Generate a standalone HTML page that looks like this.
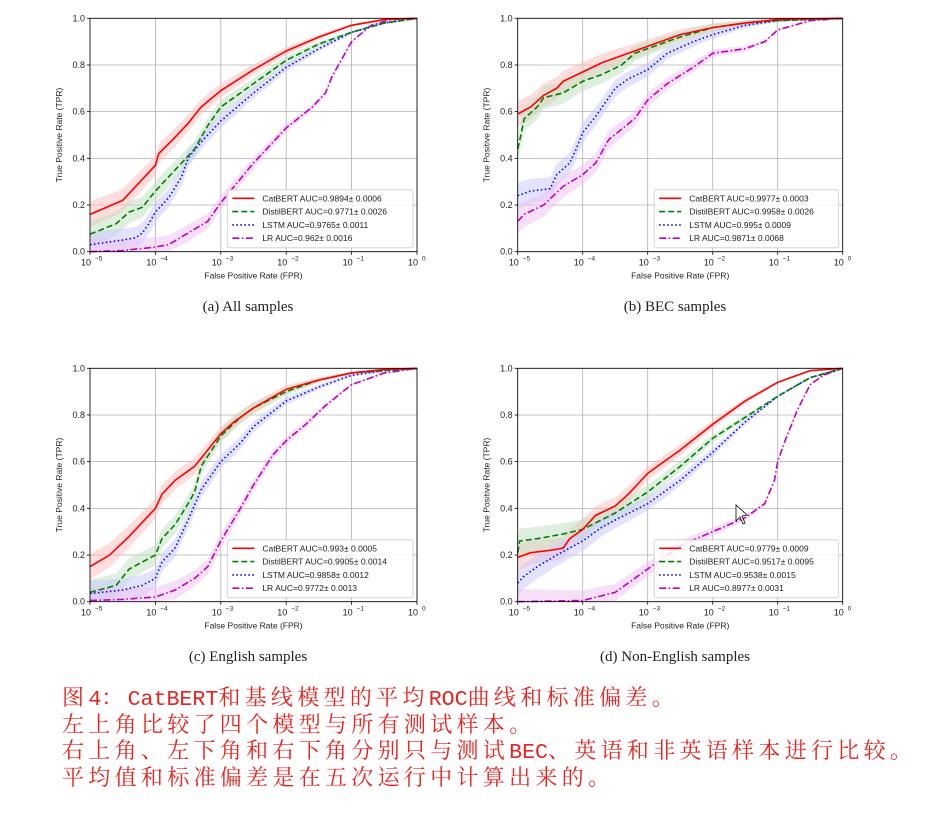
<!DOCTYPE html>
<html><head><meta charset="utf-8"><style>
body{margin:0;background:#fff;width:927px;height:815px;overflow:hidden;position:relative}
svg{position:absolute;left:0;top:0}
.cap{position:absolute;font-family:"Liberation Serif",serif;font-size:15px;color:#222;width:400px;text-align:center}
.zh{position:absolute;left:62px;top:684px;font-family:"Noto Serif CJK SC","WenQuanYi Zen Hei",serif;font-size:22px;letter-spacing:4.3px;line-height:26.5px;color:#e8231f;white-space:nowrap}
.zh div{height:26.5px;line-height:26.5px}
.zh span{font-family:"Liberation Mono",monospace;font-size:21.6px;letter-spacing:0;line-height:0}
</style></head><body>
<svg id="s" width="927" height="815" xmlns="http://www.w3.org/2000/svg" font-family="Liberation Sans, DejaVu Sans, sans-serif"></svg>
<div class="cap" style="left:48px;top:299px">(a) All samples</div>
<div class="cap" style="left:475px;top:299px">(b) BEC samples</div>
<div class="cap" style="left:48px;top:649px">(c) English samples</div>
<div class="cap" style="left:475px;top:649px">(d) Non-English samples</div>
<div class="zh"><div>图<span>4</span>：<span>CatBERT</span>和基线模型的平均<span>ROC</span>曲线和标准偏差。</div><div>左上角比较了四个模型与所有测试样本。</div><div>右上角、左下角和右下角分别只与测试<span>BEC</span>、英语和非英语样本进行比较。</div><div>平均值和标准偏差是在五次运行中计算出来的。</div></div>
<script>
const S=document.getElementById('s');const NS='http://www.w3.org/2000/svg';
function el(t,a,txt){const e=document.createElementNS(NS,t);for(const k in a)e.setAttribute(k,a[k]);if(txt!==undefined)e.textContent=txt;S.appendChild(e);return e;}
const styles=[{c:'#ff0000',d:'',f:'#ffbbbb'},{c:'#008000',d:'6,3',f:'#bfe0bf'},{c:'#0000ff',d:'1.5,2.5',f:'#c8c8ff'},{c:'#bf00bf',d:'7,2.5,1.5,2.5',f:'#f0c0f0'}];
const names=['CatBERT','DistilBERT','LSTM','LR'];
const P=[
{x0:90,x1:417,y0:18.3,y1:251.7,auc:['0.9894± 0.0006','0.9771± 0.0026','0.9765± 0.0011','0.962± 0.0016'],d:[
[[-5,.16],[-4.5,.22],[-4.3,.28],[-4.1,.34],[-4,.37],[-3.95,.42],[-3.7,.49],[-3.5,.55],[-3.3,.62],[-3,.69],[-2.5,.78],[-2,.86],[-1.5,.92],[-1,.97],[-0.5,.995],[0,1]],
[[-5,.075],[-4.6,.12],[-4.4,.17],[-4.2,.19],[-4,.26],[-3.8,.32],[-3.6,.38],[-3.4,.44],[-3.2,.54],[-3,.62],[-2.5,.72],[-2,.82],[-1.5,.89],[-1,.94],[-0.5,.98],[0,1]],
[[-5,.03],[-4.5,.05],[-4.3,.06],[-4.2,.08],[-4.1,.12],[-4,.17],[-3.8,.23],[-3.6,.32],[-3.5,.40],[-3.3,.47],[-3,.56],[-2.5,.68],[-2,.79],[-1.5,.87],[-1,.94],[-0.5,.98],[0,1]],
[[-5,0],[-4.5,.005],[-4,.02],[-3.8,.03],[-3.5,.08],[-3.2,.13],[-3,.21],[-2.5,.38],[-2,.53],[-1.6,.62],[-1.4,.68],[-1.3,.75],[-1.1,.85],[-1,.90],[-0.7,.97],[-0.4,.995],[0,1]]]},
{x0:517.7,x1:842.7,y0:18.3,y1:251.7,auc:['0.9977± 0.0003','0.9958± 0.0026','0.995± 0.0009','0.9871± 0.0068'],d:[
[[-5,.59],[-4.8,.62],[-4.6,.67],[-4.4,.70],[-4.3,.73],[-4,.77],[-3.7,.81],[-3.4,.84],[-3,.88],[-2.5,.93],[-2,.96],[-1.5,.98],[-1,.995],[0,1]],
[[-5,.44],[-4.95,.50],[-4.9,.57],[-4.7,.62],[-4.6,.66],[-4.3,.68],[-4,.73],[-3.7,.76],[-3.4,.80],[-3.2,.85],[-3,.87],[-2.5,.92],[-2,.96],[-1.5,.98],[-1,.99],[0,1]],
[[-5,.24],[-4.8,.26],[-4.5,.27],[-4.4,.33],[-4.2,.38],[-4.1,.44],[-4,.51],[-3.8,.58],[-3.5,.70],[-3.3,.74],[-3,.78],[-2.7,.85],[-2.3,.90],[-2,.93],[-1.5,.97],[-1,.99],[0,1]],
[[-5,.13],[-4.9,.16],[-4.6,.20],[-4.3,.28],[-4,.33],[-3.8,.38],[-3.6,.48],[-3.2,.57],[-3,.65],[-2.7,.72],[-2.3,.79],[-2,.85],[-1.5,.87],[-1.2,.90],[-1,.95],[-0.5,.99],[0,1]]]},
{x0:90,x1:417,y0:368.3,y1:601.7,auc:['0.993± 0.0005','0.9905± 0.0014','0.9858± 0.0012','0.9772± 0.0013'],d:[
[[-5,.15],[-4.7,.20],[-4.4,.28],[-4.2,.34],[-4,.40],[-3.9,.46],[-3.7,.52],[-3.4,.58],[-3.2,.65],[-3,.72],[-2.8,.77],[-2.5,.83],[-2,.91],[-1.5,.95],[-1,.98],[-0.5,.995],[0,1]],
[[-5,.04],[-4.6,.07],[-4.4,.14],[-4.2,.17],[-4,.20],[-3.9,.27],[-3.7,.33],[-3.5,.42],[-3.4,.47],[-3.3,.58],[-3,.71],[-2.7,.79],[-2.5,.83],[-2,.90],[-1.5,.95],[-1,.98],[0,1]],
[[-5,.035],[-4.5,.05],[-4.2,.07],[-4,.10],[-3.9,.17],[-3.7,.23],[-3.5,.35],[-3.3,.48],[-3,.60],[-2.7,.68],[-2.5,.75],[-2,.86],[-1.5,.92],[-1,.97],[-0.5,.99],[0,1]],
[[-5,.005],[-4.5,.01],[-4,.02],[-3.7,.05],[-3.4,.10],[-3.2,.15],[-3,.26],[-2.7,.40],[-2.5,.50],[-2.2,.63],[-2,.69],[-1.7,.76],[-1.4,.84],[-1,.93],[-0.5,.98],[0,1]]]},
{x0:517.7,x1:842.7,y0:368.3,y1:601.7,auc:['0.9779± 0.0009','0.9517± 0.0095','0.9538± 0.0015','0.8977± 0.0031'],d:[
[[-5,.19],[-4.8,.21],[-4.5,.22],[-4.3,.23],[-4.2,.27],[-4,.31],[-3.8,.37],[-3.5,.41],[-3.3,.46],[-3,.55],[-2.5,.65],[-2,.76],[-1.5,.86],[-1,.94],[-0.5,.99],[0,1]],
[[-5,.21],[-4.97,.26],[-4.7,.27],[-4.3,.29],[-4,.31],[-3.5,.38],[-3,.47],[-2.5,.58],[-2,.70],[-1.5,.79],[-1,.88],[-0.5,.96],[0,1]],
[[-5,.08],[-4.9,.11],[-4.7,.15],[-4.4,.20],[-4.2,.23],[-4,.26],[-3.7,.32],[-3.5,.35],[-3,.42],[-2.5,.52],[-2,.64],[-1.5,.77],[-1,.88],[-0.5,.96],[0,1]],
[[-5,0],[-4,.005],[-3.5,.04],[-3,.14],[-2.5,.24],[-2,.30],[-1.5,.36],[-1.2,.42],[-1.05,.52],[-1,.6],[-0.9,.68],[-0.7,.82],[-0.5,.93],[-0.3,.97],[0,1]]]}
];
P.forEach(p=>{
 const X=v=>p.x0+(v+5)/5*(p.x1-p.x0), Y=v=>p.y1-v*(p.y1-p.y0);
 for(let i=0;i<=5;i++){el('line',{x1:X(i-5),x2:X(i-5),y1:p.y0,y2:p.y1,stroke:'#b0b0b0','stroke-width':0.8});}
 for(let i=0;i<=5;i++){const v=i/5;el('line',{x1:p.x0,x2:p.x1,y1:Y(v),y2:Y(v),stroke:'#b0b0b0','stroke-width':0.8});}
 p.d.forEach((pts,k)=>{
  const up=[],dn=[];
  pts.forEach(([x,y])=>{const w=Math.max(0,(-1-x)/4)*0.05+0.005;up.push(X(x)+','+Y(Math.min(1,y+w)));dn.unshift(X(x)+','+Y(Math.max(0,y-w)));});
  el('polygon',{points:up.concat(dn).join(' '),fill:styles[k].f,opacity:0.5});
 });
 [3,2,1,0].forEach(k=>{const pts=p.d[k];
  el('polyline',{points:pts.map(([x,y])=>X(x)+','+Y(y)).join(' '),fill:'none',stroke:styles[k].c,'stroke-width':1.6,'stroke-dasharray':styles[k].d});});
 el('rect',{x:p.x0,y:p.y0,width:p.x1-p.x0,height:p.y1-p.y0,fill:'none',stroke:'#000','stroke-width':0.8});
 for(let i=0;i<=5;i++){const v=i/5;el('line',{x1:p.x0-3,x2:p.x0,y1:Y(v),y2:Y(v),stroke:'#000','stroke-width':0.8});
  el('text',{x:p.x0-5,y:Y(v)+3,'font-size':9,'text-anchor':'end',fill:'#222'},v.toFixed(1));}
 for(let i=0;i<=5;i++){const x=X(i-5);el('line',{x1:x,x2:x,y1:p.y1,y2:p.y1+3,stroke:'#000','stroke-width':0.8});
  el('text',{x:x-4,y:p.y1+14,'font-size':9,'text-anchor':'middle',fill:'#222'},'10');
  el('text',{x:x+5,y:p.y1+9,'font-size':6.5,'text-anchor':'start',fill:'#222'},i==5?'0':'−'+(5-i));}
 el('text',{x:(p.x0+p.x1)/2,y:p.y1+27,'font-size':8.5,'text-anchor':'middle',fill:'#222'},'False Positive Rate (FPR)');
 const cy=(p.y0+p.y1)/2;el('text',{x:p.x0-28,y:cy,'font-size':8.5,'text-anchor':'middle',fill:'#222',transform:`rotate(-90 ${p.x0-28} ${cy})`},'True Positive Rate (TPR)');
 const lx=p.x0+(p.x1-p.x0)*0.42, ly=p.y0+171.5;
 el('rect',{x:lx,y:ly,width:p.x1-4-lx,height:58,fill:'#fff','fill-opacity':0.85,stroke:'#ccc','stroke-width':0.8,rx:2});
 for(let k=0;k<4;k++){const yy=ly+8.5+k*13.3;
  el('line',{x1:lx+5,x2:lx+27,y1:yy,y2:yy,stroke:styles[k].c,'stroke-width':1.6,'stroke-dasharray':styles[k].d});
  el('text',{x:lx+35,y:yy+3,'font-size':8.5,fill:'#222'},names[k]+' AUC='+p.auc[k]);}
});
el('polygon',{points:'736,505 736,521 740,517 743,524 745,523 742,516 747,515',fill:'#fff',stroke:'#000','stroke-width':0.8});
</script>
</body></html>
